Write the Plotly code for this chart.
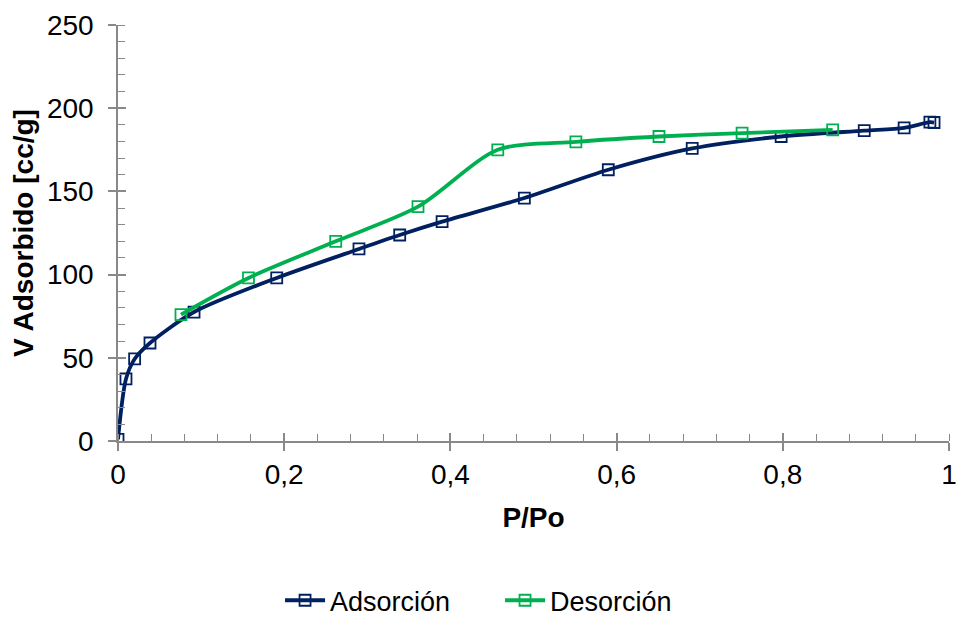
import plotly.graph_objects as go

ads_x = [0.0, 0.0096, 0.020, 0.0385, 0.0915, 0.191, 0.290, 0.339, 0.390, 0.489, 0.590, 0.691, 0.798, 0.898, 0.946, 0.977, 0.982]
ads_y = [1.0, 37.3, 49.3, 58.9, 77.5, 98.0, 115.4, 123.8, 131.8, 146.0, 163.0, 175.8, 183.0, 186.5, 188.2, 191.6, 191.4]

des_x = [0.0758, 0.157, 0.262, 0.361, 0.457, 0.551, 0.651, 0.751, 0.860]
des_y = [76.0, 98.0, 120.0, 140.8, 175.0, 179.8, 183.0, 185.0, 187.0]

x_ticks = [0, 0.2, 0.4, 0.6, 0.8, 1]
x_labels = ["0", "0,2", "0,4", "0,6", "0,8", "1"]
y_ticks = [0, 50, 100, 150, 200, 250]

NAVY = "#002060"
GREEN = "#00B050"
AX = "#898989"
FONT = "Liberation Sans, Arial, sans-serif"
FS = 28

fig = go.Figure()
fig.add_trace(go.Scatter(
    x=ads_x, y=ads_y, name="Adsorción", mode="lines+markers",
    line=dict(color=NAVY, width=3.8, shape="spline", smoothing=0.8),
    marker=dict(symbol="square-open", size=11, color=NAVY, line=dict(width=1.8)),
))
fig.add_trace(go.Scatter(
    x=des_x, y=des_y, name="Desorción", mode="lines+markers",
    line=dict(color=GREEN, width=3.8, shape="spline", smoothing=0.8),
    marker=dict(symbol="square-open", size=11, color=GREEN, line=dict(width=1.8)),
))

axis_common = dict(showgrid=False, zeroline=False, showline=True, linecolor=AX, linewidth=1.5,
                   tickcolor=AX, tickwidth=1.5, ticklen=8, ticks="outside", automargin=False,
                   ticklabeloverflow="allow",
                   tickfont=dict(family=FONT, size=FS, color="#000000"))

fig.update_layout(
    width=956, height=618,
    margin=dict(l=118, r=7, t=25, b=177, autoexpand=False),
    paper_bgcolor="white", plot_bgcolor="white",
    font=dict(family=FONT, color="#000000"),
    showlegend=True,
    legend=dict(orientation="h", x=0.195, xanchor="left", y=-0.325, yanchor="top",
                font=dict(family=FONT, size=27, color="#000000"), itemwidth=40,
                entrywidth=165, bgcolor="rgba(0,0,0,0)"),
    xaxis=dict(range=[0, 1], tickvals=x_ticks, ticktext=x_labels,
               title=dict(text="<b>P/Po</b>", font=dict(family=FONT, size=FS), standoff=18),
               minor=dict(dtick=0.04, ticks="inside", ticklen=7, tickcolor=AX, tickwidth=1.2),
               **axis_common),
    yaxis=dict(range=[0, 250], tickvals=y_ticks, ticklabelstandoff=9,
               title=dict(text="<b>V Adsorbido [cc/g]</b>", font=dict(family=FONT, size=FS), standoff=5),
               minor=dict(dtick=10, ticks="inside", ticklen=7, tickcolor=AX, tickwidth=1.2),
               **axis_common),
    xaxis2=dict(overlaying="x", range=[0, 1], tickvals=x_ticks, showticklabels=False, ticks="inside",
                ticklen=8, tickcolor=AX, tickwidth=1.5, showgrid=False, zeroline=False, showline=False,
                anchor="y", side="bottom", automargin=False),
    yaxis2=dict(overlaying="y", range=[0, 250], tickvals=y_ticks, showticklabels=False, ticks="inside",
                ticklen=8, tickcolor=AX, tickwidth=1.5, showgrid=False, zeroline=False, showline=False,
                anchor="x", side="left", automargin=False),
)
fig.add_trace(go.Scatter(x=[None], y=[None], xaxis="x2", yaxis="y2", showlegend=False, hoverinfo="skip"))

fig.write_html("out.html", config={"displayModeBar": False},
               post_script="document.body.style.margin='0';document.body.style.overflow='hidden';")
